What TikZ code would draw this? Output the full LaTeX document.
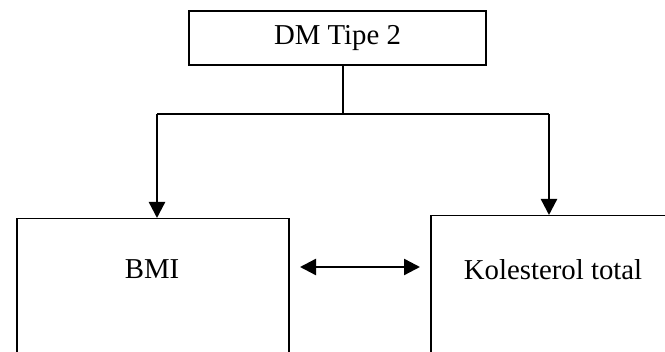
\documentclass[tikz,border=0pt]{standalone}
\usepackage{fontspec}
\setmainfont{Liberation Serif}
\usetikzlibrary{arrows.meta}
\begin{document}
\begin{tikzpicture}[x=0.5pt,y=-0.5pt,
  every node/.style={font=\fontsize{14.4}{17}\selectfont},
  boxnode/.style={draw=black,line width=0.75pt,rectangle,inner sep=0pt},
  txt/.style={inner sep=0pt},
  link/.style={line width=1.2pt},
  arrowline/.style={line width=1.2pt,-{Triangle[length=8pt,width=8pt]}},
  dblarrow/.style={line width=1.2pt,{Triangle[length=8pt,width=8pt]}-{Triangle[length=8pt,width=8pt]}}]
  \useasboundingbox (0,0) rectangle (665,352);
  \clip (0,0) rectangle (665,352);

  % top box
  \node[boxnode,minimum width=148.5pt,minimum height=27pt] (dm) at (337.5,38) {DM Tipe 2};

  % lower boxes (they run past the bottom edge)
  \node[boxnode,minimum width=136pt,minimum height=100pt,anchor=north west] (bmi) at (16,218) {};
  \node[boxnode,minimum width=125pt,minimum height=100pt,anchor=north west] (kol) at (430,215) {};
  \node[txt] (bmitxt) at (152,269.5) {BMI};
  \node[txt] (koltxt) at (553,269.5) {Kolesterol total};

  % branch points
  \coordinate (jm) at (343,114);
  \coordinate (jl) at (157,114);
  \coordinate (jr) at (549,114);

  \draw[link] (jm |- dm.south) -- (jm);
  \draw[link] (jl) -- (jr);
  \draw[arrowline] (jl) -- (jl |- bmi.north);
  \draw[arrowline] (jr) -- (jr |- kol.north);

  % two-way link between the lower boxes
  \coordinate (da) at (300,267);
  \coordinate (db) at (420,267);
  \draw[dblarrow] (da) -- (db);
\end{tikzpicture}
\end{document}
